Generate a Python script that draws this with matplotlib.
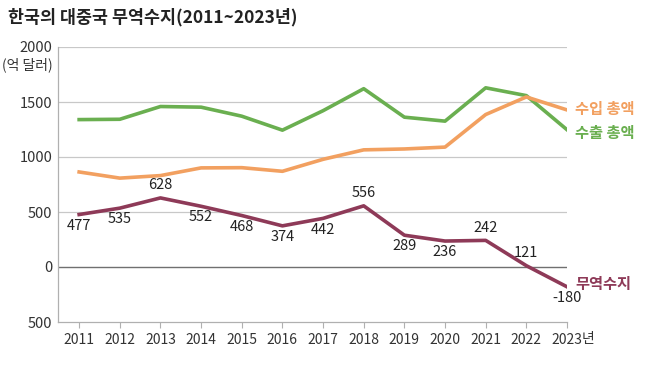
import matplotlib
matplotlib.use("Agg")
import matplotlib.pyplot as plt

plt.rcParams['font.family'] = ['Noto Sans CJK KR', 'DejaVu Sans']

years = [2011, 2012, 2013, 2014, 2015, 2016, 2017, 2018, 2019, 2020, 2021, 2022, 2023]
exports = [1340, 1343, 1459, 1453, 1371, 1244, 1421, 1621, 1362, 1326, 1629, 1558, 1248]
imports = [864, 808, 831, 901, 903, 870, 979, 1065, 1073, 1090, 1386, 1546, 1428]
balance = [477, 535, 628, 552, 468, 374, 442, 556, 289, 236, 242, 12, -180]
balance_labels = ["477", "535", "628", "552", "468", "374", "442", "556", "289", "236", "242", "121", "-180"]
label_above = [False, False, True, False, False, False, False, True, False, False, True, True, False]

green = "#6aaf50"
orange = "#f2a060"
maroon = "#8e3a58"

fig = plt.figure(figsize=(6.58, 3.69), dpi=100)
ax = fig.add_axes([58 / 658, 47 / 369, 509 / 658, 275 / 369])

ax.set_xlim(2010.48, 2023.0)
ax.set_ylim(-500, 2000)

for y in [500, 1000, 1500, 2000]:
    ax.axhline(y, color="#c8c8c8", lw=0.9, zorder=1)
ax.axhline(0, color="#707070", lw=1.0, zorder=1)

ax.plot(years, exports, color=green, lw=2.6, zorder=3)
ax.plot(years, imports, color=orange, lw=2.6, zorder=3)
ax.plot(years, balance, color=maroon, lw=2.6, zorder=4)

for x, v, t, up in zip(years, balance, balance_labels, label_above):
    if up:
        ax.annotate(t, (x, v), xytext=(0, 4), textcoords="offset points",
                    ha="center", va="bottom", fontsize=10.5, color="#222222")
    else:
        ax.annotate(t, (x, v), xytext=(0, -3), textcoords="offset points",
                    ha="center", va="top", fontsize=10.5, color="#222222")

# series labels on the right
ax.text(2023.2, imports[-1] + 10, "수입 총액", color=orange, fontsize=11,
        fontweight="bold", va="center", ha="left", clip_on=False)
ax.text(2023.2, exports[-1] - 30, "수출 총액", color=green, fontsize=11,
        fontweight="bold", va="center", ha="left", clip_on=False)
ax.text(2023.2, balance[-1] + 30, "무역수지", color=maroon, fontsize=11,
        fontweight="bold", va="center", ha="left", clip_on=False)

for s in ["top", "right"]:
    ax.spines[s].set_visible(False)
for s in ["left", "bottom"]:
    ax.spines[s].set_color("#b0b0b0")
    ax.spines[s].set_linewidth(0.9)

ax.set_yticks([-500, 0, 500, 1000, 1500, 2000])
ax.set_yticklabels(["500", "0", "500", "1000", "1500", "2000"])
ax.tick_params(axis="y", length=0, pad=4, labelsize=10.5, labelcolor="#333333")

ax.set_xticks(years)
ax.set_xticklabels([str(y) for y in years])
ax.tick_params(axis="x", length=4, color="#b0b0b0", pad=4, labelsize=10, labelcolor="#333333")

fig.text(582 / 658, 1 - 339 / 369, "년", ha="left", va="center", fontsize=10, color="#333333")

fig.text(53 / 658, 1 - 65 / 369, "(억 달러)", ha="right", va="center", fontsize=10, color="#333333")

fig.text(8 / 658, 1 - 17 / 369, "한국의 대중국 무역수지(2011~2023년)", ha="left", va="center",
         fontsize=12.5, fontweight="bold", color="#222222")

fig.savefig("out.png", dpi=100)
